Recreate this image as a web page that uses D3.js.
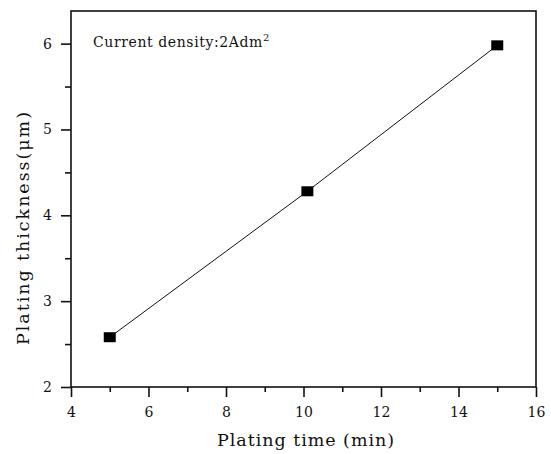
<!DOCTYPE html>
<html><head><meta charset="utf-8">
<script src="https://cdn.jsdelivr.net/npm/d3@7"></script>
<style>body{margin:0;background:#fff}svg{display:block}text{font-family:"DejaVu Serif","Liberation Serif",serif;fill:#111}</style>
</head><body><svg id="c" width="551" height="454"></svg>
<script>
const times = [5, 10.1, 15];
const thickness = [2.58, 4.28, 5.98];
const xTicks = [4, 6, 8, 10, 12, 14, 16];
const yTicks = [2, 3, 4, 5, 6];
const xMinor = [5, 7, 9, 11, 13, 15];
const yMinor = [2.5, 3.5, 4.5, 5.5];
const xTitle = "Plating time (min)";
const yTitle = "Plating thickness(\u03BCm)";
const note = "Current density:2Adm";

const svg = d3.select("#c");
const x = d3.scaleLinear().domain([4, 16]).range([71, 536]);
const y = d3.scaleLinear().domain([2, 6.38]).range([387, 11]);

function fit(sel, w) {
  const cur = sel.node().getComputedTextLength();
  const n = sel.text().length;
  sel.attr("letter-spacing", ((w - cur) / n).toFixed(2));
}

// frame
svg.append("rect").attr("x", x(4)).attr("y", y(6.38)).attr("width", x(16)-x(4)).attr("height", y(2)-y(6.38))
  .attr("fill", "none").attr("stroke", "#111").attr("stroke-width", 1.6);

// x axis
const gx = svg.append("g").attr("transform", `translate(0,${y(2)})`)
  .call(d3.axisBottom(x).tickValues(xTicks).tickFormat(d3.format("d")).tickSize(10).tickPadding(10));
gx.select(".domain").remove();
gx.selectAll("line").attr("stroke", "#111").attr("stroke-width", 1.6);
gx.selectAll("text").attr("font-size", 14);
const gx2 = svg.append("g").attr("transform", `translate(0,${y(2)})`)
  .call(d3.axisBottom(x).tickValues(xMinor).tickFormat("").tickSize(5));
gx2.select(".domain").remove();
gx2.selectAll("line").attr("stroke", "#111").attr("stroke-width", 1.6);

// y axis
const gy = svg.append("g").attr("transform", `translate(${x(4)},0)`)
  .call(d3.axisLeft(y).tickValues(yTicks).tickFormat(d3.format("d")).tickSize(10).tickPadding(9));
gy.select(".domain").remove();
gy.selectAll("line").attr("stroke", "#111").attr("stroke-width", 1.6);
gy.selectAll("text").attr("font-size", 14);
const gy2 = svg.append("g").attr("transform", `translate(${x(4)},0)`)
  .call(d3.axisLeft(y).tickValues(yMinor).tickFormat("").tickSize(6));
gy2.select(".domain").remove();
gy2.selectAll("line").attr("stroke", "#111").attr("stroke-width", 1.6);

// line
const pts = times.map((t, i) => [t, thickness[i]]);
svg.append("path").datum(pts)
  .attr("d", d3.line().x(d => x(d[0])).y(d => y(d[1])))
  .attr("fill", "none").attr("stroke", "#111").attr("stroke-width", 1);
svg.selectAll("rect.m").data(pts).enter().append("rect").attr("class", "m")
  .attr("x", d => x(d[0]) - 6).attr("y", d => y(d[1]) - 5).attr("width", 12).attr("height", 10)
  .attr("fill", "#000");

// titles
const xt = svg.append("text").attr("x", 217).attr("y", 446)
  .attr("font-size", 17.5).text(xTitle);
fit(xt, 178);
const yt = svg.append("text").attr("transform", `translate(29,345) rotate(-90)`)
  .attr("font-size", 17.5).text(yTitle);
fit(yt, 235);
const n = svg.append("text").attr("x", 93).attr("y", 47).attr("font-size", 14).text(note);
fit(n, 170);
n.append("tspan").attr("dy", -6).attr("font-size", 10).attr("letter-spacing", 0).text("2");
</script></body></html>
